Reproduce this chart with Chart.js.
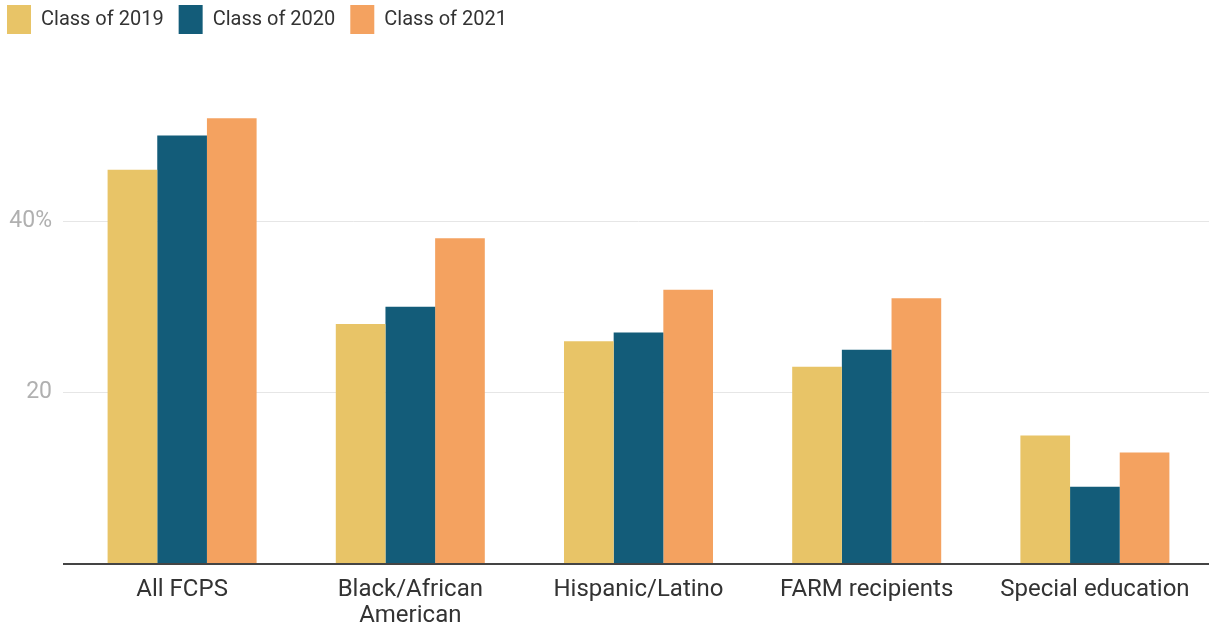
<!DOCTYPE html>
<html>
<head>
<meta charset="utf-8">
<script src="https://cdn.jsdelivr.net/npm/chart.js@4/dist/chart.umd.min.js"></script>
<style>
  html, body { margin: 0; padding: 0; background: #ffffff; }
  #wrap { width: 1209px; height: 628px; position: relative; }
</style>
</head>
<body>
<div id="wrap"><canvas id="c"></canvas></div>
<script>
const categories = ["All FCPS", ["Black/African", "American"], "Hispanic/Latino", "FARM recipients", "Special education"];
const seriesNames = ["Class of 2019", "Class of 2020", "Class of 2021"];
const class2019 = [46, 28, 26, 23, 15];
const class2020 = [50, 30, 27, 25, 9];
const class2021 = [52, 38, 32, 31, 13];
const yTicks = [0, 20, 40];
const yTickLabels = ["", "20", "40%"];

const colors = ["#E8C467", "#135C79", "#F4A260"];

const legendShift = {
  id: 'legendShift',
  afterLayout(chart) {
    if (chart.legend) {
      chart.legend.left -= 8;
      chart.legend.top -= 10;
    }
  }
};

new Chart(document.getElementById('c'), {
  type: 'bar',
  data: {
    labels: categories,
    datasets: [
      { label: seriesNames[0], data: class2019, backgroundColor: colors[0] },
      { label: seriesNames[1], data: class2020, backgroundColor: colors[1] },
      { label: seriesNames[2], data: class2021, backgroundColor: colors[2] }
    ]
  },
  options: {
    responsive: true,
    maintainAspectRatio: false,
    animation: false,
    devicePixelRatio: 1,
    layout: { padding: { left: 0, right: 0, top: 0, bottom: 0 } },
    datasets: { bar: { barPercentage: 1.0, categoryPercentage: 0.653 } },
    plugins: {
      legend: {
        position: 'top',
        align: 'start',
        labels: {
          boxWidth: 24,
          boxHeight: 29,
          padding: 15,
          color: '#333333',
          font: { family: 'Roboto', size: 20 }
        }
      },
      tooltip: { enabled: false }
    },
    scales: {
      x: {
        grid: { display: false },
        border: { display: false },
        ticks: {
          color: '#333333',
          padding: 5,
          maxRotation: 0,
          autoSkip: false,
          font: { family: 'Roboto', size: 24, lineHeight: 1.083 }
        },
        afterFit(scale) { scale.height = 64; }
      },
      y: {
        min: 0,
        max: 59.5,
        border: { display: false },
        afterBuildTicks(scale) { scale.ticks = yTicks.map(v => ({ value: v })); },
        afterFit(scale) { scale.width = 68; },
        grid: {
          drawTicks: true,
          tickLength: 5,
          color: ctx => (ctx.tick && ctx.tick.value === 0) ? '#444444' : '#e6e6e6',
          lineWidth: ctx => (ctx.tick && ctx.tick.value === 0) ? 2 : 1
        },
        ticks: {
          color: '#b0b0b0',
          padding: 11,
          font: { family: 'Roboto', size: 23 },
          callback: (v) => { const i = yTicks.indexOf(v); return i >= 0 ? yTickLabels[i] : ''; }
        }
      }
    }
  },
  plugins: [legendShift]
});
</script>
</body>
</html>
